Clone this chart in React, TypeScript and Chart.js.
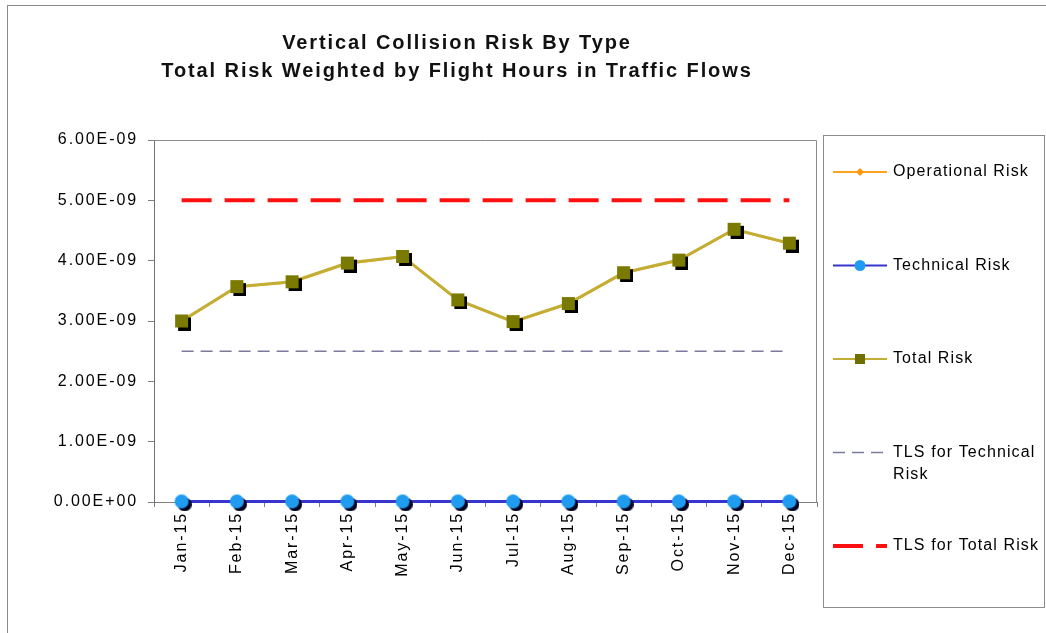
import React, { useEffect, useRef } from "react";
import { Chart, registerables } from "chart.js";

Chart.register(...registerables);

// ---- Data ----
const months = ["Jan-15", "Feb-15", "Mar-15", "Apr-15", "May-15", "Jun-15", "Jul-15", "Aug-15", "Sep-15", "Oct-15", "Nov-15", "Dec-15"];
const operationalRisk = [2.99e-9, 3.56e-9, 3.64e-9, 3.95e-9, 4.06e-9, 3.34e-9, 2.98e-9, 3.28e-9, 3.79e-9, 4.0e-9, 4.51e-9, 4.28e-9];
const technicalRisk = [1.0e-11, 1.0e-11, 1.0e-11, 1.0e-11, 1.0e-11, 1.0e-11, 1.0e-11, 1.0e-11, 1.0e-11, 1.0e-11, 1.0e-11, 1.0e-11];
const totalRisk = [3.0e-9, 3.57e-9, 3.65e-9, 3.96e-9, 4.07e-9, 3.35e-9, 2.99e-9, 3.29e-9, 3.8e-9, 4.01e-9, 4.52e-9, 4.29e-9];
const tlsTechnical = [2.5e-9, 2.5e-9, 2.5e-9, 2.5e-9, 2.5e-9, 2.5e-9, 2.5e-9, 2.5e-9, 2.5e-9, 2.5e-9, 2.5e-9, 2.5e-9];
const tlsTotal = [5.0e-9, 5.0e-9, 5.0e-9, 5.0e-9, 5.0e-9, 5.0e-9, 5.0e-9, 5.0e-9, 5.0e-9, 5.0e-9, 5.0e-9, 5.0e-9];
const yMin = 0;
const yMax = 6.0e-9;
const yStep = 1.0e-9;
const titleLines = ["Vertical Collision Risk By Type", "Total Risk Weighted by Flight Hours in Traffic Flows"];
const seriesLabels = ["Operational Risk", "Technical Risk", "Total Risk", "TLS for Technical Risk", "TLS for Total Risk"];

const FONT = '"Liberation Sans", Arial, sans-serif';

function sciLabel(v: number): string {
  const s = Number(v).toExponential(2);
  const [m, e] = s.split("e");
  const sign = e[0] === "-" ? "-" : "+";
  const digits = e.replace(/[+-]/, "").padStart(2, "0");
  return `${m}E${sign}${digits}`;
}

function makeSquareMarker(size: number, off: number, fill: string, shadow: string) {
  const c = document.createElement("canvas");
  const w = size + off * 2;
  c.width = w;
  c.height = w;
  const g = c.getContext("2d")!;
  g.fillStyle = shadow;
  g.fillRect(off * 2, off * 2, size, size);
  g.fillStyle = fill;
  g.fillRect(off, off, size, size);
  return c;
}

function makeCircleMarker(r: number, off: number, fill: string, shadow: string) {
  const c = document.createElement("canvas");
  const w = r * 2 + off * 2;
  c.width = w;
  c.height = w;
  const g = c.getContext("2d")!;
  g.fillStyle = shadow;
  g.beginPath();
  g.arc(off * 2 + r, off * 2 + r, r, 0, Math.PI * 2);
  g.fill();
  g.fillStyle = fill;
  g.beginPath();
  g.arc(off + r, off + r, r, 0, Math.PI * 2);
  g.fill();
  return c;
}

const spacingPlugin = {
  id: "spacing",
  beforeLayout(chart: any) {
    chart.ctx.letterSpacing = "1.9px";
  },
  beforeDraw(chart: any) {
    chart.ctx.letterSpacing = "1.9px";
  },
};

const framePlugin = {
  id: "frame",
  beforeDatasetsDraw(chart: any) {
    const { ctx, chartArea: a } = chart;
    ctx.save();
    ctx.strokeStyle = "#8c8c8c";
    ctx.lineWidth = 1;
    ctx.beginPath();
    ctx.moveTo(a.left, a.top + 0.5);
    ctx.lineTo(a.right - 0.5, a.top + 0.5);
    ctx.lineTo(a.right - 0.5, a.bottom);
    ctx.stroke();
    ctx.restore();
  },
};

const titlePlugin = {
  id: "customTitle",
  afterDraw(chart: any) {
    const { ctx } = chart;
    ctx.save();
    ctx.letterSpacing = "1.9px";
    ctx.font = `bold 20px ${FONT}`;
    ctx.fillStyle = "#111";
    ctx.textAlign = "center";
    ctx.textBaseline = "middle";
    ctx.fillText(titleLines[0], 457, 43);
    ctx.fillText(titleLines[1], 457, 71);
    ctx.restore();
  },
};

const legendPlugin = {
  id: "customLegend",
  afterDraw(chart: any) {
    const { ctx, chartArea: a } = chart;
    const boxL = a.right + 6;
    const boxT = 135;
    const boxB = 607;
    const boxR = chart.width - 1;
    ctx.save();
    ctx.strokeStyle = "#8c8c8c";
    ctx.lineWidth = 1;
    ctx.strokeRect(boxL + 0.5, boxT + 0.5, boxR - boxL - 1, boxB - boxT);

    const sx0 = boxL + 10;
    const sx1 = boxL + 64;
    const mx = (sx0 + sx1) / 2;
    const tx = boxL + 70;
    const maxW = boxR - tx - 2;
    const rowStart = 172;
    const rowGap = 93.5;

    ctx.font = `16px ${FONT}`;
    ctx.letterSpacing = "1.1px";
    ctx.textAlign = "left";
    ctx.textBaseline = "middle";

    chart.data.datasets.forEach((ds: any, i: number) => {
      const y = rowStart + i * rowGap;
      ctx.save();
      ctx.strokeStyle = ds.borderColor;
      ctx.lineWidth = ds.legendLineWidth || ds.borderWidth;
      ctx.setLineDash(ds.borderDash || []);
      ctx.beginPath();
      ctx.rect(sx0, y - 10, sx1 - sx0, 20);
      ctx.clip();
      ctx.beginPath();
      ctx.moveTo(sx0, y);
      ctx.lineTo(sx1, y);
      ctx.stroke();
      ctx.restore();
      ctx.setLineDash([]);
      if (ds.legendMarker === "diamond") {
        ctx.fillStyle = ds.pointBackgroundColor;
        ctx.beginPath();
        ctx.moveTo(mx, y - 4);
        ctx.lineTo(mx + 4, y);
        ctx.lineTo(mx, y + 4);
        ctx.lineTo(mx - 4, y);
        ctx.closePath();
        ctx.fill();
      } else if (ds.legendMarker === "circle") {
        ctx.fillStyle = "#1f9cf0";
        ctx.beginPath();
        ctx.arc(mx, y, 5.5, 0, Math.PI * 2);
        ctx.fill();
      } else if (ds.legendMarker === "square") {
        ctx.fillStyle = "#6f6f00";
        ctx.fillRect(mx - 5, y - 5, 10, 10);
      }
      ctx.fillStyle = "#000";
      const words = String(ds.label).split(" ");
      const lines: string[] = [];
      let cur = "";
      words.forEach((w) => {
        const test = cur ? cur + " " + w : w;
        if (ctx.measureText(test).width > maxW && cur) {
          lines.push(cur);
          cur = w;
        } else {
          cur = test;
        }
      });
      if (cur) lines.push(cur);
      lines.forEach((ln, k) => ctx.fillText(ln, tx, y + k * 22));
    });
    ctx.restore();
  },
};

export default function App() {
  const ref = useRef<HTMLCanvasElement | null>(null);

  useEffect(() => {
    document.body.style.margin = "0";
    document.body.style.overflow = "hidden";
    const canvas = ref.current;
    if (!canvas) return;

    const squareImg = makeSquareMarker(13, 3, "#7a7a00", "#000000");
    const circleImg = makeCircleMarker(7, 3, "#1f9cf0", "#000020");

    const chart = new Chart(canvas, {
      type: "line",
      data: {
        labels: months,
        datasets: [
          {
            label: seriesLabels[0],
            data: operationalRisk,
            borderColor: "#ffa21f",
            backgroundColor: "#ffa21f",
            pointBackgroundColor: "#ff9a10",
            pointBorderColor: "#ff9a10",
            pointStyle: "rectRot",
            pointRadius: 4,
            borderWidth: 2,
            order: 2,
            clip: false,
            legendMarker: "diamond",
          } as any,
          {
            label: seriesLabels[1],
            data: technicalRisk,
            borderColor: "#3636cc",
            backgroundColor: "#3636cc",
            pointStyle: circleImg,
            pointRadius: 8,
            borderWidth: 3,
            legendLineWidth: 2,
            order: 0,
            clip: false,
            legendMarker: "circle",
          } as any,
          {
            label: seriesLabels[2],
            data: totalRisk,
            borderColor: "#c2ad35",
            backgroundColor: "#c2ad35",
            pointStyle: squareImg,
            pointRadius: 8,
            borderWidth: 3,
            legendLineWidth: 2,
            order: 1,
            clip: false,
            legendMarker: "square",
          } as any,
          {
            label: seriesLabels[3],
            data: tlsTechnical,
            borderColor: "#7a7b9c",
            backgroundColor: "#7a7b9c",
            borderDash: [12, 7],
            borderWidth: 1.5,
            pointRadius: 0,
            order: 3,
            clip: false,
          } as any,
          {
            label: seriesLabels[4],
            data: tlsTotal,
            borderColor: "#ff1010",
            backgroundColor: "#ff1010",
            borderDash: [30, 13],
            borderWidth: 4,
            pointRadius: 0,
            order: 3,
            clip: false,
          } as any,
        ],
      },
      options: {
        animation: false,
        responsive: true,
        maintainAspectRatio: false,
        events: [],
        layout: { padding: { left: 34, top: 140, right: 229, bottom: 31 } },
        plugins: {
          legend: { display: false },
          title: { display: false },
          tooltip: { enabled: false },
        },
        elements: { line: { tension: 0 } },
        scales: {
          x: {
            type: "category",
            offset: true,
            grid: {
              display: true,
              drawOnChartArea: false,
              drawTicks: true,
              tickLength: 5,
              offset: true,
              color: "#808080",
            },
            border: { display: true, color: "#808080", width: 1 },
            ticks: {
              autoSkip: false,
              maxRotation: 90,
              minRotation: 90,
              padding: 5,
              color: "#000",
              font: { family: FONT, size: 16 },
            },
            afterFit: (s: any) => {
              s.height = 100;
            },
          },
          y: {
            type: "linear",
            min: yMin,
            max: yMax,
            grid: {
              display: true,
              drawOnChartArea: false,
              drawTicks: true,
              tickLength: 6,
              color: "#808080",
            },
            border: { display: true, color: "#707070", width: 1 },
            ticks: {
              stepSize: yStep,
              padding: 10,
              color: "#000",
              font: { family: FONT, size: 16 },
              callback: (v: any) => sciLabel(Number(v)),
            },
            afterFit: (s: any) => {
              s.width = 120;
            },
          },
        },
      } as any,
      plugins: [spacingPlugin, framePlugin, titlePlugin, legendPlugin],
    });

    return () => chart.destroy();
  }, []);

  return (
    <div style={{ position: "fixed", left: 0, top: 0, width: 1046, height: 633, background: "#fff", overflow: "hidden" }}>
      <div style={{ position: "absolute", left: 7, top: 5, width: 1100, height: 700, border: "1px solid #8a8a8a" }} />
      <div style={{ position: "absolute", left: 0, top: 0, width: 1046, height: 633 }}>
        <canvas ref={ref} />
      </div>
    </div>
  );
}
